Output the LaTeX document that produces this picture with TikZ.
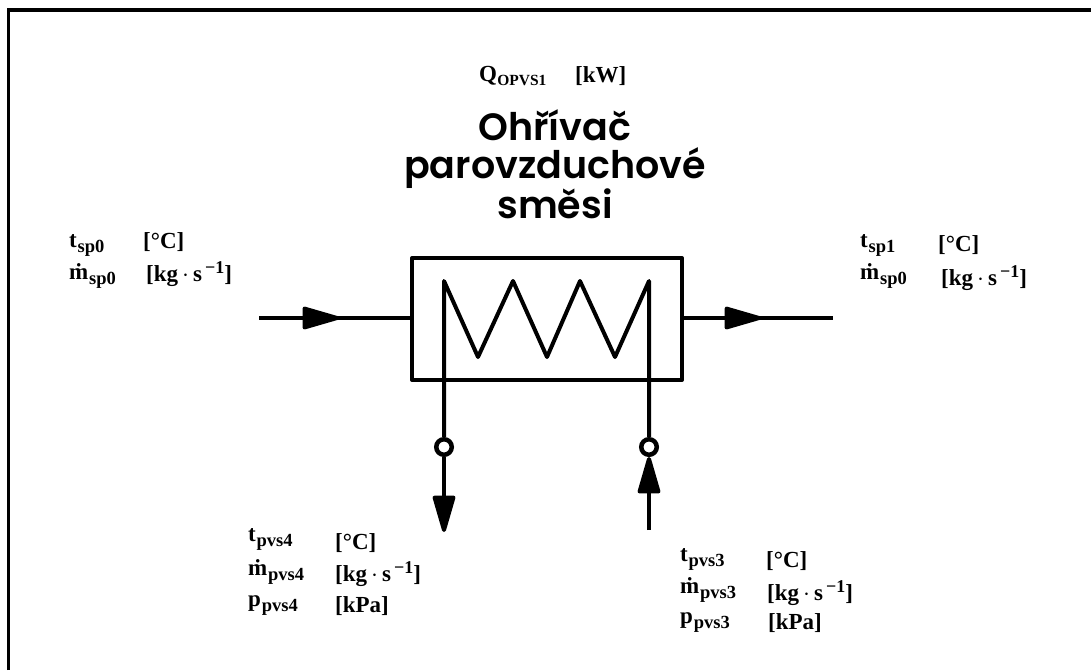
\documentclass[tikz,border=0pt]{standalone}
\usepackage{fontspec}
\usetikzlibrary{arrows.meta}
\setmainfont{Liberation Serif}
\newfontfamily\titlefont{Poppins}[UprightFont=* SemiBold]
\tikzset{
  pipeline/.style={line width=4pt,black},
  flowtip/.style={pipeline,-{Triangle[length=42pt,width=23pt,round]}},
  frameline/.style={line width=3.8pt,black,line join=miter},
  valve/.style={circle,draw=black,line width=4.5pt,fill=white,minimum size=15.5pt,inner sep=0pt},
  lbl/.style={anchor=west,inner sep=0pt,font=\fontsize{23}{25}\selectfont\bfseries,text=black},
  ttl/.style={align=center,inner sep=0pt,font=\titlefont\fontsize{38}{39.5}\selectfont,text=black}
}
\newcommand{\qsub}[2]{#1\kern0.8pt\raisebox{-5pt}{\fontsize{18.5}{20}\selectfont #2}}
\newcommand{\qcap}[2]{#1\kern0.3pt\raisebox{-4pt}{\fontsize{15.5}{17}\selectfont #2}}
\newcommand{\kgs}{[kg\kern4pt$\cdot$\kern4pt s\kern3pt\raisebox{8pt}{\fontsize{18}{20}\selectfont −1}]}
\begin{document}
\begin{tikzpicture}[x=1pt,y=-1pt]
\useasboundingbox (0,0) rectangle (1091,670);
\draw[frameline] (8.5,670) -- (8.5,10) -- (1091,10);

% exchanger
\node[draw=black,line width=4pt,line join=round,outer sep=0pt,minimum width=270pt,minimum height=122pt,inner sep=0pt] (box) at (547,319) {};
\coordinate (c0) at (444,281);
\coordinate (c1) at (478,357);
\coordinate (c2) at (513,281);
\coordinate (c3) at (547,357);
\coordinate (c4) at (580,281);
\coordinate (c5) at (615,357);
\coordinate (c6) at (649,281);
\node[valve] (vl) at (444,447) {};
\node[valve] (vr) at (649,447) {};
\draw[pipeline,line join=round] (vl) -- (c0) -- (c1) -- (c2) -- (c3) -- (c4) -- (c5) -- (c6) -- (vr);

% horizontal streams
\coordinate (inA) at (259,318);
\coordinate (inB) at (339,318);
\coordinate (outB) at (761,318);
\coordinate (outE) at (833,318);
\draw[pipeline] (inA) -- (box.west |- inA);
\draw[flowtip] (inA) -- (inB);
\draw[pipeline] (box.east |- outB) -- (outE);
\draw[flowtip] (box.east |- outB) -- (outB);

% vertical streams
\coordinate (dnE) at (444,532);
\coordinate (upS) at (649,530);
\draw[flowtip] (vl) -- (dnE);
\draw[flowtip] (upS) -- (vr);

% texts
\node[lbl] (q) at (479,76) {\qcap{Q}{OPVS1}};
\node[lbl] (qu) at (575,76) {[kW]};
\node[ttl] (title) at (555,164) {Ohřívač\\[-1pt]parovzduchové\\[-1pt]směsi};

\node[lbl] (a1) at (69,245) {\qsub{t}{sp0}};
\node[lbl] (a2) at (143,242) {[°C]};
\node[lbl] (a3) at (69,276) {\qsub{\.m}{sp0}};
\node[lbl] (a4) at (146,274) {\kgs};

\node[lbl] (b1) at (860,245) {\qsub{t}{sp1}};
\node[lbl] (b2) at (938,245) {[°C]};
\node[lbl] (b3) at (860,276) {\qsub{\.m}{sp0}};
\node[lbl] (b4) at (941,278) {\kgs};

\node[lbl] (c1t) at (248,539) {\qsub{t}{pvs4}};
\node[lbl] (c2t) at (335,543) {[°C]};
\node[lbl] (c3t) at (248,572) {\qsub{\.m}{pvs4}};
\node[lbl] (c4t) at (335,574) {\kgs};
\node[lbl] (c5t) at (248,606) {\qsub{p}{pvs4}};
\node[lbl] (c6t) at (335,606) {[kPa]};

\node[lbl] (d1t) at (680,559) {\qsub{t}{pvs3}};
\node[lbl] (d2t) at (766,561) {[°C]};
\node[lbl] (d3t) at (680,590) {\qsub{\.m}{pvs3}};
\node[lbl] (d4t) at (767,593) {\kgs};
\node[lbl] (d5t) at (680,623) {\qsub{p}{pvs3}};
\node[lbl] (d6t) at (768,623) {[kPa]};
\end{tikzpicture}
\end{document}
